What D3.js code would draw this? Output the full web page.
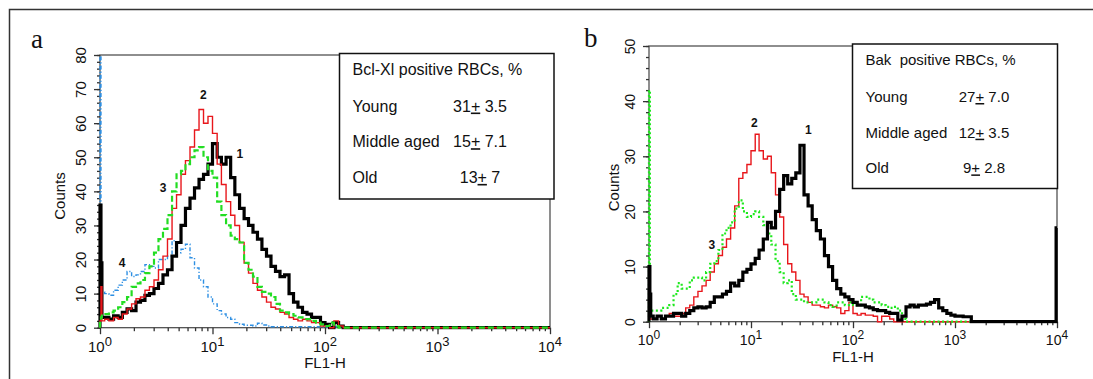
<!DOCTYPE html>
<html>
<head>
<meta charset="utf-8">
<script src="https://cdn.jsdelivr.net/npm/d3@7"></script>
<style>
  body { margin: 0; background: #fff; }
  svg { display: block; }
</style>
</head>
<body>
<svg id="chart"></svg>
<script>
const width = 1093;
const height = 379;

// FL1-H channel positions and histogram counts
const aChannels = [1.00, 1.02, 1.04,
  1.10, 1.20, 1.32, 1.45, 1.58, 1.74, 1.91, 2.09, 2.29, 2.51,
  2.75, 3.02, 3.31, 3.63, 3.98, 4.37, 4.79, 5.25, 5.75, 6.31,
  6.92, 7.59, 8.32, 9.12, 10.0, 11.0, 12.0, 13.2, 14.5, 15.8,
  17.4, 19.1, 20.9, 22.9, 25.1, 27.5, 30.2, 33.1, 36.3, 39.8,
  43.7, 47.9, 52.5, 57.5, 63.1, 69.2, 75.9, 83.2, 91.2, 100,
  110, 120, 132, 145, 158,
  10000];

// panel a (Bcl-Xl): 1 black, 2 red, 3 green, 4 blue
const aCurve1 = [36, 19, 3,
  3, 2.5, 3.5, 3, 4.5, 5.5, 5, 7.5, 8, 9.5,
  10, 11.5, 13, 15.5, 17, 21, 25, 30, 35, 38,
  41, 43.5, 45, 48, 54, 50, 48, 50, 44, 39,
  35, 32, 30, 28, 26, 23, 21, 18, 16.5, 15,
  15.5, 10, 7.5, 6, 4.5, 4, 3, 3, 1.5, 1,
  0, 1.5, 0.5, 0, 0,
  0];
const aCurve2 = [2, 12, 2,
  2.5, 2, 3, 2.5, 4, 5.5, 7, 8.5, 9, 11,
  12, 14, 17, 21, 26, 35, 39, 45, 49, 53,
  58, 64, 60, 62, 57, 48, 42, 37, 33, 30,
  25, 19, 16, 13, 11, 9, 7.5, 6, 5.5, 4.5,
  4, 3, 2.5, 2, 2.5, 2, 1.5, 1.5, 0.5, 0.5,
  0, 2, 0.5, 0, 0,
  0];
const aCurve3 = [2, 3, 4,
  4, 4.5, 5, 6, 7.5, 9, 12, 13, 14, 16,
  18, 22, 26, 29, 33, 40, 45, 46, 48, 50,
  52, 53, 50, 46, 44, 37, 33, 30, 27, 26,
  25, 19, 17, 15, 12, 10.5, 10, 9, 7, 5,
  4.5, 4, 3.5, 3, 2.5, 2.5, 2, 1.5, 1, 0.5,
  1.5, 0.5, 0, 0, 0,
  0];
const aCurve4 = [95, 11, 10.5,
  10, 9.5, 11, 12.5, 14, 16.5, 15, 15.5, 16.5, 18.5,
  18, 17.5, 20, 20, 21, 25.5, 22, 23, 24.5, 20.5,
  17.5, 14, 12, 9, 7, 5, 4, 3, 2.5, 1.5,
  1, 0.7, 0.7, 0.5, 1.3, 0.8, 0.5, 0.3, 0.3, 0.3,
  0.3, 0.3, 0.3, 0.3, 0.3, 0.3, 0.3, 0.3, 0.3, 0.3,
  0.3, 0.3, 0.3, 0.3, 0.3,
  0.3];

const bChannels = [1.00, 1.02, 1.04,
  1.10, 1.20, 1.32, 1.45, 1.58, 1.74, 1.91, 2.09, 2.29, 2.51,
  2.75, 3.02, 3.31, 3.63, 3.98, 4.37, 4.79, 5.25, 5.75, 6.31,
  6.92, 7.59, 8.32, 9.12, 10.0, 11.0, 12.0, 13.2, 14.5, 15.8,
  17.4, 19.1, 20.9, 22.9, 25.1, 27.5, 30.2, 33.1, 36.3, 39.8,
  43.7, 47.9, 52.5, 57.5, 63.1, 69.2, 75.9, 83.2, 91.2, 100,
  110, 120, 132, 145, 158, 174, 191, 209, 229, 251,
  275, 302, 331, 363, 398, 437, 479, 525, 575, 631,
  692, 759, 832, 912, 1000, 1096, 1202, 1318, 1445, 1585,
  9800, 10000];

// panel b (Bak): 1 black, 2 red, 3 green
const bCurve1 = [10, 5, 1,
  0.5, 1, 0.5, 1, 1, 1.5, 1.5, 1, 1.5, 2,
  2.5, 2.7, 2.5, 2.7, 3.5, 4.5, 4.5, 5, 5.5, 7,
  6.5, 7.5, 9, 9.5, 10.5, 11.5, 13, 15, 18, 17,
  20, 24, 26.5, 25, 26, 27, 32, 23, 21, 18.5,
  16.5, 15, 12, 10, 7.5, 6, 5, 4.5, 4, 3.5,
  3, 3, 2.7, 2.5, 2.2, 2, 2, 1.7, 1.5, 1.5,
  0.3, 1, 2.7, 3, 2.7, 3, 3, 3.2, 3.5, 4,
  2.5, 2, 1.5, 1.2, 1, 1, 0.9, 0.9, 0, 0,
  17, 17];
const bCurve2 = [1, 0.5, 0.5,
  0.5, 1, 0.5, 1, 1.5, 1, 1, 1.5, 2.5, 3,
  4.5, 5.5, 6.5, 7.5, 9, 10.5, 12, 13.5, 15, 17,
  21, 26, 27, 28.5, 31, 34, 31, 29.5, 30, 27,
  23, 19, 14, 10.5, 9, 7.5, 5, 4.5, 3.5, 3,
  3, 2.7, 2.5, 3, 2.7, 2.5, 1.5, 2, 3.5, 1.5,
  1.2, 1.5, 1.2, 1.2, 1, 0, 1, 1, 0.5, 0,
  0, 0, 0, 0, 0, 0, 0, 0, 0, 0,
  0, 0, 0, 0, 0, 0, 0, 0, 0, 0,
  0, 0];
const bCurve3 = [42, 3, 2,
  2, 2, 2.5, 2.5, 3, 5, 7, 6, 6, 7.5,
  8, 8, 7.5, 9, 10.5, 11, 13, 16, 17, 18,
  20.5, 22, 20, 19, 19.5, 20, 19, 17.5, 16, 14,
  11, 9, 7, 7.5, 5, 4, 4, 3.5, 3.5, 3.5,
  4, 4, 3.5, 3, 2.7, 3.5, 3.5, 3, 3.5, 3,
  3, 4.5, 4.5, 4, 3.5, 3.5, 3, 2.7, 2.5, 2.7,
  2, 0.5, 0, 0, 0, 0, 0, 0, 0, 0,
  0, 0, 0, 0, 0, 0, 0, 0, 0, 0,
  0, 0];

const aYTicks = [0, 10, 20, 30, 40, 50, 60, 70, 80];
const bYTicks = [0, 10, 20, 30, 40, 50];
const xTickExps = [0, 1, 2, 3, 4];

const legendGroups = ["Young", "Middle aged", "Old"];
const bclMeans = ["31", "15", "13"];
const bclSDs = ["3.5", "7.1", "7"];
const bakMeans = ["27", "12", "9"];
const bakSDs = ["7.0", "3.5", "2.8"];

const sans = "'Liberation Sans', Arial, sans-serif";
const narrow = "'Liberation Sans Narrow', 'Liberation Sans', Arial, sans-serif";

const svg = d3.select("#chart")
  .attr("width", width)
  .attr("height", height)
  .style("background", "#fff");

// outer frame, only its top and left edges are in the picture
svg.append("path")
  .attr("d", `M9.5,${height} V9.5 H${width}`)
  .attr("fill", "none")
  .attr("stroke", "#333")
  .attr("stroke-width", 1.5);

function drawPanel(o) {
  const x = d3.scaleLog().domain([1, 10000]).range([o.x0, o.x1]);
  const y = d3.scaleLinear().domain([0, o.yMax]).range([o.y0, o.y1]);
  const g = svg.append("g");

  // plot frame
  g.append("rect")
    .attr("x", o.x0).attr("y", o.y1)
    .attr("width", o.x1 - o.x0).attr("height", o.y0 - o.y1)
    .attr("fill", "none")
    .attr("stroke", "#444")
    .attr("stroke-width", 1.2);

  // y axis: minor ticks every 2, major every 10
  const yMinor = g.append("g")
    .attr("transform", `translate(${o.x0},0)`)
    .call(d3.axisLeft(y).tickValues(d3.range(0, o.yMax + 1, 2)).tickSize(3).tickSizeOuter(0).tickFormat(""));
  const yMajor = g.append("g")
    .attr("transform", `translate(${o.x0},0)`)
    .call(d3.axisLeft(y).tickValues(o.yTicks).tickSize(6).tickSizeOuter(0));
  yMajor.selectAll(".tick text")
    .attr("x", 0).attr("dy", 0)
    .attr("transform", "translate(-14,0) rotate(-90)")
    .attr("text-anchor", "middle")
    .attr("font-family", narrow)
    .attr("font-size", o.tickFont)
    .attr("fill", "#111");

  // x axis: decades plus 2..9 minor ticks
  const minorX = xTickExps.slice(0, -1).flatMap(e => [2, 3, 4, 5, 6, 7, 8, 9].map(m => m * Math.pow(10, e)));
  const xMinor = g.append("g")
    .attr("transform", `translate(0,${o.y0})`)
    .call(d3.axisBottom(x).tickValues(minorX).tickSize(3.5).tickSizeOuter(0).tickFormat(""));
  const xMajor = g.append("g")
    .attr("transform", `translate(0,${o.y0})`)
    .call(d3.axisBottom(x).tickValues(xTickExps.map(e => Math.pow(10, e))).tickSize(6.5).tickSizeOuter(0).tickFormat(""));

  [yMinor, yMajor, xMinor, xMajor].forEach(a => {
    a.select(".domain").remove();
    a.selectAll(".tick line").attr("stroke", "#333").attr("stroke-width", 1.3);
  });

  xTickExps.forEach(e => {
    const t = g.append("text")
      .attr("x", x(Math.pow(10, e)))
      .attr("y", o.y0 + o.xLabelDy)
      .attr("text-anchor", "middle")
      .attr("font-family", narrow)
      .attr("font-size", o.tickFont)
      .attr("fill", "#111");
    t.append("tspan").text("10");
    t.append("tspan").attr("dy", -6).attr("font-size", o.tickFont - 2).text(e);
  });

  g.append("text")
    .attr("x", x(100))
    .attr("y", o.y0 + 40.5)
    .attr("text-anchor", "middle")
    .attr("font-family", sans)
    .attr("font-size", 15)
    .attr("fill", "#111")
    .text("FL1-H");

  g.append("text")
    .attr("transform", `translate(${o.countsX},${o.countsY}) rotate(-90)`)
    .attr("text-anchor", "middle")
    .attr("font-family", sans)
    .attr("font-size", 15)
    .attr("fill", "#111")
    .text("Counts");

  // histograms
  const clipId = "clip-" + o.name;
  svg.append("clipPath").attr("id", clipId)
    .append("rect")
    .attr("x", o.x0 - 3).attr("y", o.y1)
    .attr("width", o.x1 - o.x0 + 6).attr("height", o.y0 - o.y1 + 2);

  const line = d3.line()
    .x(d => x(d[0]))
    .y(d => y(d[1]))
    .curve(d3.curveStepAfter);

  o.curves.forEach(c => {
    const pts = [[o.channels[0], 0]].concat(o.channels.map((ch, i) => [ch, c.counts[i]]));
    g.append("path")
      .datum(pts)
      .attr("clip-path", `url(#${clipId})`)
      .attr("d", line)
      .attr("fill", "none")
      .attr("stroke", c.color)
      .attr("stroke-width", c.width)
      .attr("stroke-dasharray", c.dash || null);
  });

  // curve numbers
  o.tags.forEach(t => {
    g.append("text")
      .attr("x", x(t.at))
      .attr("y", y(t.count))
      .attr("text-anchor", "middle")
      .attr("dominant-baseline", "central")
      .attr("font-family", sans)
      .attr("font-weight", "bold")
      .attr("font-size", 12)
      .attr("fill", "#111")
      .text(t.label);
  });

  // legend box
  const lb = o.legend;
  g.append("rect")
    .attr("x", lb.x).attr("y", lb.y)
    .attr("width", lb.w).attr("height", lb.h)
    .attr("fill", "#fff")
    .attr("stroke", "#111")
    .attr("stroke-width", 1.5);
  g.append("text")
    .attr("x", lb.x + 13).attr("y", lb.y + lb.titleDy)
    .attr("font-family", sans).attr("font-size", lb.font).attr("fill", "#111")
    .attr("xml:space", "preserve")
    .text(lb.title);
  legendGroups.forEach((grp, i) => {
    const rowY = lb.y + lb.titleDy + 37 + i * 35.7;
    g.append("text")
      .attr("x", lb.x + 13).attr("y", rowY)
      .attr("font-family", sans).attr("font-size", lb.font).attr("fill", "#111")
      .text(grp);
    const v = g.append("text")
      .attr("x", lb.valueX).attr("y", rowY)
      .attr("text-anchor", "middle")
      .attr("font-family", sans).attr("font-size", lb.font).attr("fill", "#111");
    v.append("tspan").text(lb.means[i]);
    v.append("tspan").attr("text-decoration", "underline").text("+");
    v.append("tspan").text(" " + lb.sds[i]);
  });

  svg.append("text")
    .attr("x", o.letterX).attr("y", o.letterY)
    .attr("font-family", "'Liberation Serif', 'Times New Roman', serif")
    .attr("font-size", 27)
    .attr("fill", "#111")
    .text(o.name);
}

drawPanel({
  name: "a",
  x0: 100, x1: 550, y0: 327.7, y1: 55, yMax: 80,
  yTicks: aYTicks, tickFont: 15, xLabelDy: 24,
  countsX: 65, countsY: 196,
  letterX: 31, letterY: 48,
  channels: aChannels,
  curves: [
    { counts: aCurve4, color: "#2d8fe3", width: 1.4, dash: "4,2,1.2,2" },
    { counts: aCurve1, color: "#000", width: 3.2 },
    { counts: aCurve2, color: "#e8161b", width: 1.4 },
    { counts: aCurve3, color: "#22dd22", width: 2.2, dash: "6,3" }
  ],
  tags: [
    { label: "1", at: 17.5, count: 50.9 },
    { label: "2", at: 8.3, count: 68.2 },
    { label: "3", at: 3.63, count: 41 },
    { label: "4", at: 1.57, count: 19 }
  ],
  legend: {
    x: 339.5, y: 53.5, w: 214.5, h: 145.5, titleDy: 21, font: 16,
    valueX: 480, title: "Bcl-Xl positive RBCs, %",
    means: bclMeans, sds: bclSDs
  }
});

drawPanel({
  name: "b",
  x0: 649, x1: 1057, y0: 321.7, y1: 46, yMax: 50,
  yTicks: bYTicks, tickFont: 14, xLabelDy: 23,
  countsX: 618.5, countsY: 187.5,
  letterX: 584, letterY: 47,
  channels: bChannels,
  curves: [
    { counts: bCurve2, color: "#e8161b", width: 1.4 },
    { counts: bCurve3, color: "#1ee81e", width: 2.2, dash: "2,2.5" },
    { counts: bCurve1, color: "#000", width: 3.2 }
  ],
  tags: [
    { label: "1", at: 36.5, count: 34.8 },
    { label: "2", at: 10.8, count: 36 },
    { label: "3", at: 4.12, count: 13.9 }
  ],
  legend: {
    x: 852.5, y: 44, w: 205, h: 144.5, titleDy: 21, font: 15,
    valueX: 984, title: "Bak  positive RBCs, %",
    means: bakMeans, sds: bakSDs
  }
});
</script>
</body>
</html>
